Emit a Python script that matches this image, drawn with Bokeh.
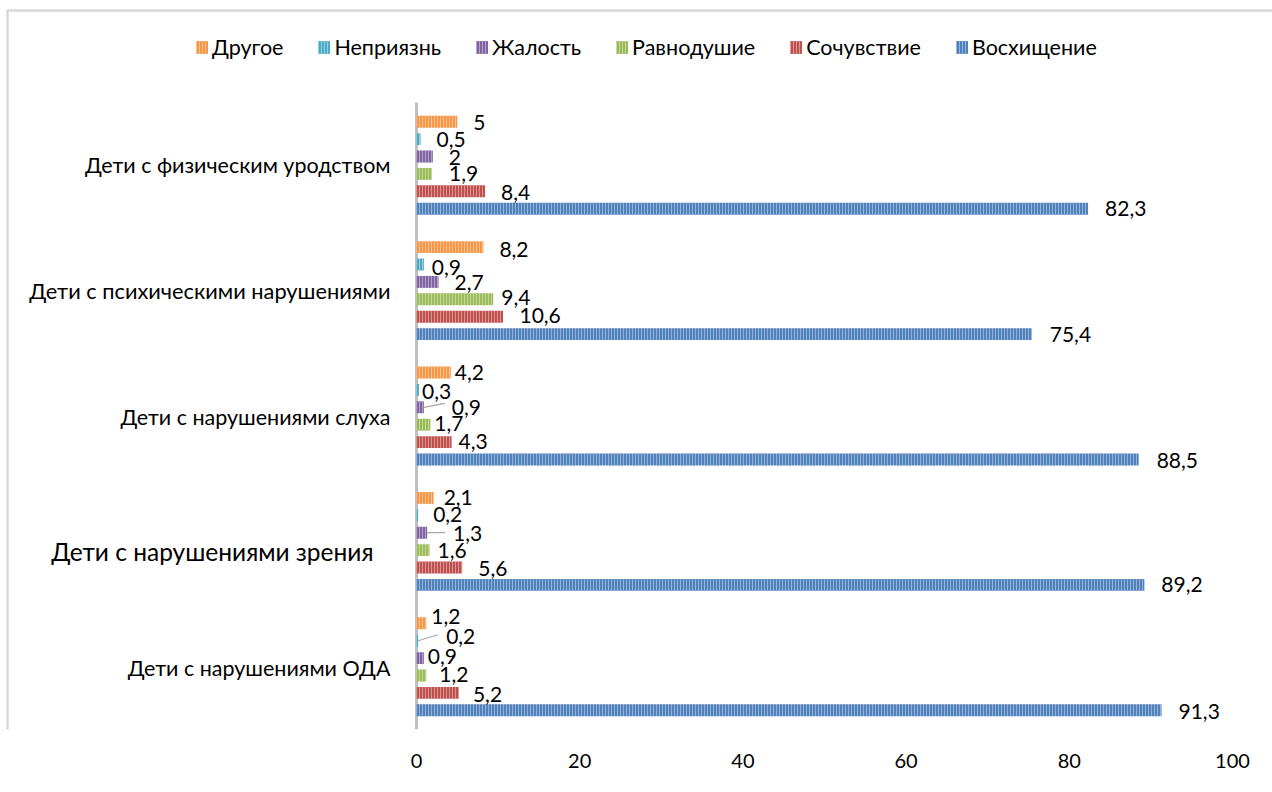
from bokeh.plotting import figure
from bokeh.models import ColumnDataSource, FixedTicker, Legend, LegendItem, Range1d
from bokeh.core.properties import value
from bokeh.embed import file_html
from bokeh.resources import INLINE

# ---------------- data ----------------
categories = [
    "Дети с нарушениями ОДА",
    "Дети с нарушениями зрения",
    "Дети с нарушениями слуха",
    "Дети с психическими нарушениями",
    "Дети с физическим уродством",
]
series = ["Восхищение", "Сочувствие", "Равнодушие", "Жалость", "Неприязнь", "Другое"]
voskhishchenie = [91.3, 89.2, 88.5, 75.4, 82.3]
sochuvstvie = [5.2, 5.6, 4.3, 10.6, 8.4]
ravnodushie = [1.2, 1.6, 1.7, 9.4, 1.9]
zhalost = [0.9, 1.3, 0.9, 2.7, 2]
nepriyazn = [0.2, 0.2, 0.3, 0.9, 0.5]
drugoe = [1.2, 2.1, 4.2, 8.2, 5]
x_ticks = [0, 20, 40, 60, 80, 100]

values = [voskhishchenie, sochuvstvie, ravnodushie, zhalost, nepriyazn, drugoe]

# ---------------- style ----------------
colors = ["#4F81BD", "#C0504D", "#9BBB59", "#8064A2", "#4BACC6", "#F79646"]
FONT = "Lato"

# category label styling (pixels)
cat_font_size = ["21.5px", "24.5px", "21.5px", "21.8px", "21.5px"]
cat_dx = [-26, -43, -26, -26, -26]
cat_dy = [1, 10, 1, 0, 0]

# value label offsets in pixels (x from bar end, y downward from bar centre)
label_dx = [
    [17, 17, 18, 18, 17],
    [14, 16, 7, 16.5, 16],
    [13, 8, 4, 8, 17],
    [4, 26, 28, 16, 16],
    [28, 15, 3, 8, 16],
    [5, 10, 4, 16, 16],
]
label_dy = [
    [1, 0, 1, 0, 0],
    [2, 1, -1, -1, 1],
    [-1, 0, -1, -2, 0],
    [-2, 1, 0, 1, 1],
    [-4, -1, 2, 3, 0],
    [-7, 0, 0, 2, 1],
]
# leader lines: (series index, category index, end dx px, end dy px)
leaders = [(3, 2, 21, -4), (3, 1, 18, 0), (4, 0, 20, -6)]

# ---------------- layout ----------------
W, H = 1272, 792
BOTTOM = 63            # space for x tick labels
ZERO_PX = 416          # pixel column of value 0
PX_X = 8.16            # pixels per percent
PX_Y = 125.4           # pixels per category
frame_h = H - BOTTOM

x_start = -ZERO_PX / PX_X
x_end = (W - ZERO_PX) / PX_X
y_end = frame_h / PX_Y

slot = 0.1387
bar_h = 0.095

p = figure(
    width=W, height=H, output_backend="svg", toolbar_location=None,
    x_range=Range1d(x_start, x_end), y_range=Range1d(0, y_end),
    min_border_left=0, min_border_right=0, min_border_top=0, min_border_bottom=BOTTOM,
)
p.yaxis.visible = False
p.outline_line_color = None
p.xgrid.grid_line_color = None
p.ygrid.grid_line_color = None
p.background_fill_color = "white"
p.border_fill_color = "white"

# chart-area border (left and top edges visible)
p.quad(left=[(7 - ZERO_PX) / PX_X], right=[x_end + 5], top=[(frame_h - 10) / PX_Y],
       bottom=[-5], fill_color=None, line_color="#D9D9D9", line_width=2.5)

# category axis line
p.segment(x0=[0], y0=[0], x1=[0], y1=[len(categories)], line_color="#BFBFBF", line_width=3)

renderers = []
for j, name in enumerate(series):
    ys = [i + 0.5 + (j - 2.5) * slot for i in range(len(categories))]
    src = ColumnDataSource(dict(y=ys, right=values[j]))
    r = p.hbar(y="y", right="right", left=0, height=bar_h, source=src,
               fill_color=colors[j], line_color=None,
               hatch_pattern="vertical_line", hatch_color="white",
               hatch_alpha=0.4, hatch_scale=3, hatch_weight=1)
    renderers.append(r)

    labels = [f"{v:g}".replace(".", ",") for v in values[j]]
    lsrc = ColumnDataSource(dict(x=values[j], y=ys, text=labels,
                                 dx=label_dx[j], dy=label_dy[j]))
    p.text(x="x", y="y", text="text", x_offset="dx", y_offset="dy", source=lsrc,
           text_font=value(FONT), text_font_size="21px", text_color="#000000",
           text_align="left", text_baseline="middle")

# leader lines
lx0, ly0, lx1, ly1 = [], [], [], []
for (j, i, ex, ey) in leaders:
    v = values[j][i]
    yc = i + 0.5 + (j - 2.5) * slot
    lx0.append(v)
    ly0.append(yc)
    lx1.append(v + ex / PX_X)
    ly1.append(yc - ey / PX_Y)
p.segment(x0=lx0, y0=ly0, x1=lx1, y1=ly1, line_color="#A6A6A6", line_width=1.2)

# category labels
csrc = ColumnDataSource(dict(
    x=[0] * len(categories), y=[i + 0.5 for i in range(len(categories))],
    text=categories, size=cat_font_size, dx=cat_dx, dy=cat_dy))
p.text(x="x", y="y", text="text", x_offset="dx", y_offset="dy", source=csrc,
       text_font=value(FONT), text_font_size="size", text_color="#000000",
       text_align="right", text_baseline="middle")

# x axis (labels only)
p.xaxis.ticker = FixedTicker(ticks=x_ticks)
p.xaxis.axis_line_color = None
p.xaxis.major_tick_line_color = None
p.xaxis.minor_tick_line_color = None
p.xaxis.major_label_text_font = FONT
p.xaxis.major_label_text_font_size = "20px"
p.xaxis.major_label_text_color = "#000000"
p.xaxis.major_label_standoff = 18

legend = Legend(
    items=[LegendItem(label=series[j], renderers=[renderers[j]]) for j in range(5, -1, -1)],
    orientation="horizontal", location=(194, frame_h - 60),
    label_text_font=FONT, label_text_font_size="21.5px", label_text_color="#000000",
    glyph_width=15, glyph_height=16, label_standoff=3, spacing=33,
    padding=0, margin=0, border_line_color=None, background_fill_alpha=0,
)
p.add_layout(legend)

open("out.html", "w").write(file_html(p, INLINE))
